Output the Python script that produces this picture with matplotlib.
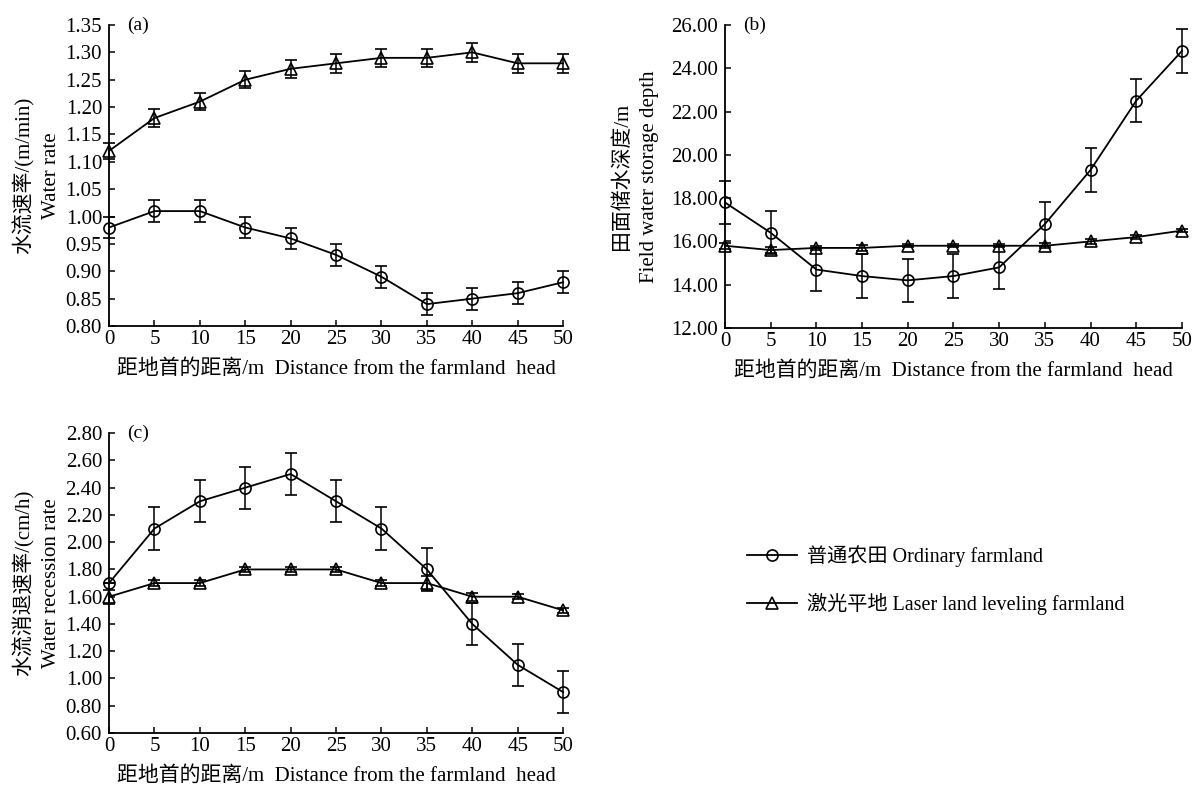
import matplotlib
matplotlib.use("Agg")
from matplotlib import pyplot as plt

plt.rcParams['font.family'] = ['Liberation Serif', 'Noto Sans CJK SC']
plt.rcParams['axes.unicode_minus'] = False

distance = [0, 5, 10, 15, 20, 25, 30, 35, 40, 45, 50]

# (a) water rate, m/min
rate_ordinary = [0.98, 1.01, 1.01, 0.98, 0.96, 0.93, 0.89, 0.84, 0.85, 0.86, 0.88]
rate_ordinary_err = [0.02, 0.02, 0.02, 0.02, 0.02, 0.02, 0.02, 0.02, 0.02, 0.02, 0.02]
rate_laser = [1.12, 1.18, 1.21, 1.25, 1.27, 1.28, 1.29, 1.29, 1.30, 1.28, 1.28]
rate_laser_err = [0.015, 0.017, 0.016, 0.016, 0.016, 0.017, 0.017, 0.017, 0.017, 0.017, 0.017]

# (b) field water storage depth
depth_ordinary = [17.8, 16.4, 14.7, 14.4, 14.2, 14.4, 14.8, 16.8, 19.3, 22.5, 24.8]
depth_ordinary_err = [1.0, 1.0, 1.0, 1.0, 1.0, 1.0, 1.0, 1.0, 1.0, 1.0, 1.0]
depth_laser = [15.8, 15.6, 15.7, 15.7, 15.8, 15.8, 15.8, 15.8, 16.0, 16.2, 16.5]
depth_laser_err = [0.15, 0.12, 0.1, 0.12, 0.08, 0.08, 0.08, 0.12, 0.1, 0.08, 0.08]

# (c) water recession rate, cm/h
recess_ordinary = [1.7, 2.1, 2.3, 2.4, 2.5, 2.3, 2.1, 1.8, 1.4, 1.1, 0.9]
recess_ordinary_err = [0.0, 0.155, 0.155, 0.155, 0.155, 0.155, 0.155, 0.155, 0.155, 0.155, 0.155]
recess_laser = [1.6, 1.7, 1.7, 1.8, 1.8, 1.8, 1.7, 1.7, 1.6, 1.6, 1.5]
recess_laser_err = [0.05, 0.02, 0.02, 0.02, 0.02, 0.02, 0.02, 0.05, 0.03, 0.02, 0.02]

series_labels = ["普通农田 Ordinary farmland", "激光平地 Laser land leveling farmland"]
xlabel_text = "距地首的距离/m  Distance from the farmland  head"

fs = 15
tick_fs = 15

line_style = dict(color='black', lw=1.3, elinewidth=1.1, capsize=4.5, capthick=1.1,
                  markersize=8, markerfacecolor='none', markeredgecolor='black',
                  markeredgewidth=1.2)


def draw_panel(ax, y1, e1, y2, e2, ylim, yticks, ylab_cn, ylab_en, ylab_x, tag):
    lines = []
    for ys, es, mk in ((y1, e1, 'o'), (y2, e2, '^')):
        cont = ax.errorbar(distance, ys, yerr=es, marker=mk, **line_style)
        for art in cont.get_children():
            art.set_clip_on(False)
        # keep only the data line (no error bar) for the legend
        lines.append(cont[0])
    ax.set_xlim(0, 50)
    ax.set_xticks(distance)
    ax.set_ylim(*ylim)
    ax.set_yticks(yticks)
    ax.set_yticklabels(["{:.2f}".format(v) for v in yticks])
    ax.spines['top'].set_visible(False)
    ax.spines['right'].set_visible(False)
    ax.spines['left'].set_linewidth(1.3)
    ax.spines['bottom'].set_linewidth(1.3)
    ax.tick_params(direction='in', length=4, width=1.1, labelsize=tick_fs)
    ax.tick_params(axis='x', pad=3)
    ax.tick_params(axis='y', pad=5)
    ax.set_xlabel(xlabel_text, fontsize=fs, labelpad=7)

    # two-line y label: Chinese outside, English next to the axis
    ax.text(ylab_x[0], 0.5, ylab_cn, transform=ax.transAxes, rotation=90,
            rotation_mode='anchor', ha='center', va='center', fontsize=fs)
    ax.text(ylab_x[1], 0.5, ylab_en, transform=ax.transAxes, rotation=90,
            rotation_mode='anchor', ha='center', va='center', fontsize=fs)

    ax.text(0.04, 1.0, tag, transform=ax.transAxes, fontsize=14, va='center', ha='left')
    return lines


fig = plt.figure(figsize=(11.93, 7.89), dpi=100)
ax_a = fig.add_axes([0.0914, 0.5868, 0.3806, 0.3815])
ax_b = fig.add_axes([0.6077, 0.5843, 0.3830, 0.3840])
ax_c = fig.add_axes([0.0914, 0.0710, 0.3806, 0.3800])

draw_panel(ax_a, rate_ordinary, rate_ordinary_err, rate_laser, rate_laser_err,
           (0.80, 1.35), [0.80 + 0.05 * i for i in range(12)],
           "水流速率/(m/min)", "Water rate", (-0.189, -0.126), "(a)")
draw_panel(ax_b, depth_ordinary, depth_ordinary_err, depth_laser, depth_laser_err,
           (12, 26), [12, 14, 16, 18, 20, 22, 24, 26],
           "田面储水深度/m", "Field water storage depth", (-0.225, -0.166), "(b)")
handles = draw_panel(ax_c, recess_ordinary, recess_ordinary_err, recess_laser, recess_laser_err,
                     (0.6, 2.8), [0.6 + 0.2 * i for i in range(12)],
                     "水流消退速率/(cm/h)", "Water recession rate", (-0.189, -0.126), "(c)")

fig.legend(handles, series_labels, loc='center left', bbox_to_anchor=(747 / 1193, 1 - 580 / 789),
           frameon=False, fontsize=14.5, handlelength=2.5, handletextpad=0.5,
           labelspacing=1.25, borderpad=0, borderaxespad=0)

fig.savefig("out.png", dpi=100)
